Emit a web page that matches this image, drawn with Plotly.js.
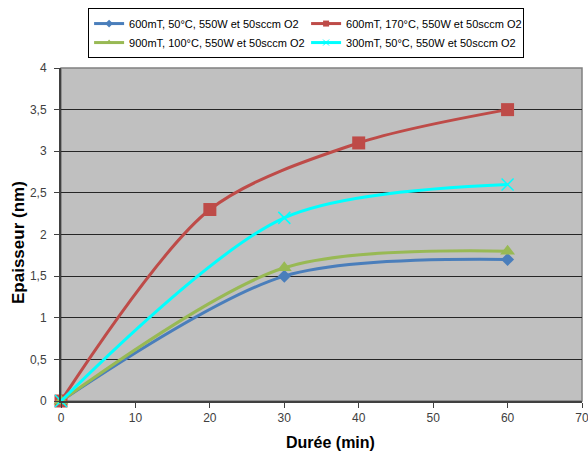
<!DOCTYPE html>
<html><head><meta charset="utf-8">
<script src="https://cdn.plot.ly/plotly-3.0.1.min.js"></script>
<style>body{margin:0;padding:0;background:#fff}#chart{width:588px;height:455px}</style>
</head><body><div id="chart"></div>
<script>
const seriesNames = [
  "600mT, 50°C, 550W et 50sccm O2",
  "600mT, 170°C, 550W et 50sccm O2",
  "900mT, 100°C, 550W et 50sccm O2",
  "300mT, 50°C, 550W et 50sccm O2"
];
const x1 = [0, 30, 60];
const y1 = [0, 1.5, 1.7];
const x2 = [0, 20, 40, 60];
const y2 = [0, 2.3, 3.1, 3.5];
const x3 = [0, 30, 60];
const y3 = [0, 1.6, 1.8];
const x4 = [0, 30, 60];
const y4 = [0, 2.2, 2.6];
const xTicks = [0, 10, 20, 30, 40, 50, 60, 70];
const yTicks = [0, 0.5, 1, 1.5, 2, 2.5, 3, 3.5, 4];
const xTitle = 'Durée (min)';
const yTitle = 'Epaisseur (nm)';

const colors = ['#4a7ebb', '#be4b48', '#98b954', '#00ffff'];
const symbols = ['diamond', 'square', 'triangle-up', 'x-thin-open'];
const sizes = [10, 13, 13, 12];
const legSizes = [6, 6, 6, 6];

function tr(x, y, i) {
  return {
    x: x, y: y, name: seriesNames[i], type: 'scatter', mode: 'lines+markers',
    showlegend: false,
    line: {color: colors[i], width: 3, shape: 'spline', smoothing: 0.85},
    marker: {color: colors[i], symbol: symbols[i], size: sizes[i],
      line: i === 3 ? {color: colors[i], width: 1.5} : {width: 0}},
    cliponaxis: false
  };
}
function leg(i) {
  return {
    x: [null], y: [null], name: seriesNames[i], type: 'scatter', mode: 'lines+markers',
    line: {color: colors[i], width: 3},
    marker: {color: colors[i], symbol: symbols[i], size: legSizes[i],
      line: i === 3 ? {color: colors[i], width: 1} : {width: 0}}
  };
}
const data = [
  tr(x1, y1, 0), tr(x2, y2, 1), tr(x3, y3, 2), tr(x4, y4, 3),
  leg(0), leg(1), leg(2), leg(3)
];
const titleFont = {family: 'Liberation Sans, Arial, sans-serif', color: '#000000', weight: 'bold'};
const layout = {
  width: 588, height: 455,
  margin: {l: 61, r: 6, t: 68, b: 54},
  paper_bgcolor: '#ffffff', plot_bgcolor: '#c0c0c0',
  separators: ', ',
  font: {family: 'Liberation Sans, Arial, sans-serif', size: 12, color: '#404040'},
  showlegend: true,
  legend: {
    orientation: 'h', x: 0.052, xanchor: 'left', y: 1.18, yanchor: 'top',
    bordercolor: '#000000', borderwidth: 1, bgcolor: '#ffffff',
    font: {family: 'Liberation Sans, Arial, sans-serif', size: 11, color: '#000000'},
    entrywidth: 172, entrywidthmode: 'pixels', tracegroupgap: 0
  },
  xaxis: {
    range: [0, 70], tickvals: xTicks, ticktext: xTicks.map(String),
    showgrid: false, zeroline: false, showline: true, linecolor: '#404040', linewidth: 2,
    ticks: 'outside', ticklen: 5, tickcolor: '#404040', tickwidth: 1,
    tickfont: {size: 12, color: '#404040'}, ticklabeloverflow: 'allow'
  },
  yaxis: {
    range: [0, 4], tickvals: yTicks,
    showgrid: true, gridcolor: '#262626', gridwidth: 1, zeroline: false,
    showline: true, linecolor: '#404040', linewidth: 2,
    ticks: 'outside', ticklen: 5, tickcolor: '#404040', tickwidth: 1,
    tickfont: {size: 12, color: '#404040'}, ticklabelstandoff: 5
  },
  annotations: [
    {text: xTitle, xref: 'paper', yref: 'paper', x: 0.518, y: -0.125,
      xanchor: 'center', yanchor: 'middle', showarrow: false,
      font: Object.assign({size: 16}, titleFont)},
    {text: yTitle, xref: 'paper', yref: 'paper', x: -0.0806, y: 0.4745,
      xanchor: 'center', yanchor: 'middle', showarrow: false, textangle: -90,
      font: Object.assign({size: 17}, titleFont)}
  ],
  shapes: [{type: 'rect', xref: 'paper', yref: 'paper', x0: 0, x1: 1, y0: 0, y1: 1,
    line: {color: '#808080', width: 1.5}, layer: 'below'}]
};
Plotly.newPlot('chart', data, layout, {displayModeBar: false, staticPlot: true});
</script></body></html>
